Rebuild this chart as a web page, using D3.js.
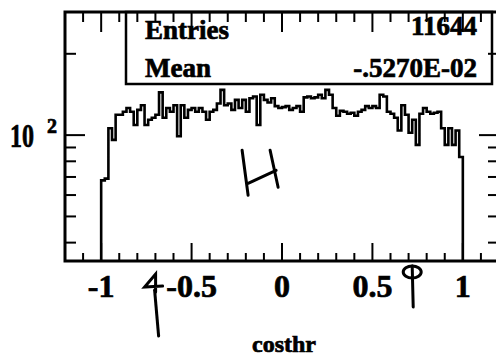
<!DOCTYPE html>
<html>
<head>
<meta charset="utf-8">
<script src="https://cdn.jsdelivr.net/npm/d3@7"></script>
<style>
  body { margin: 0; background: #fff; }
  svg { display: block; }
  text { font-family: "Liberation Serif", "Times New Roman", serif; font-weight: bold; fill: #000; stroke: #000; stroke-width: 0.7px; }
</style>
</head>
<body>
<svg id="chart" width="496" height="357"></svg>
<script>
// histogram of costhr, 100 bins between -1 and 1
var binLo = -1, binHi = 1;
var counts = [
  68, 69, 106, 96, 119, 119, 122, 126, 122, 109,
  124, 129, 109, 114, 116, 119, 144, 116, 126, 122,
  129, 99, 129, 116, 124, 126, 122, 126, 122, 114,
  122, 124, 131, 147, 129, 131, 124, 135, 126, 135,
  122, 137, 139, 109, 141, 135, 132, 137, 128, 126,
  127, 128, 124, 126, 128, 122, 138, 139, 137, 138,
  141, 137, 147, 141, 126, 118, 123, 122, 120, 121,
  118, 122, 124, 128, 126, 128, 126, 141, 139, 122,
  120, 116, 104, 129, 119, 102, 114, 92, 120, 126,
  122, 120, 121, 122, 106, 92, 106, 92, 104, 83
];
var xTickLabels = ["-1", "-0.5", "0", "0.5", "1"];
var xTickValues = [-1, -0.5, 0, 0.5, 1];
var yMinorTicks = [40, 50, 60, 70, 80, 90, 200];
var yMajorTicks = [100];
var statNames = ["Entries", "Mean"];
var statValues = ["11644", "-.5270E-02"];
var cutValues = [-0.71, 0.72];

var svg = d3.select("#chart");
var fL = 65, fR = 499, fT = 12, fB = 261;

var x = d3.scaleLinear().domain([-1.2, 1.2]).range([fL, fR]);
var y = d3.scaleLog().domain([34.2, 285.6]).range([fB, fT]);

var binW = (binHi - binLo) / counts.length;

// histogram outline
var pts = [[x(binLo), fB]];
counts.forEach(function(c, i) {
  var x0 = x(binLo + i * binW), x1 = x(binLo + (i + 1) * binW);
  pts.push([x0, y(c)]);
  pts.push([x1, y(c)]);
});
pts.push([x(binHi), fB]);

svg.append("path")
  .attr("d", d3.line()(pts))
  .attr("fill", "none")
  .attr("stroke", "#000")
  .attr("stroke-width", 2.6);

// x ticks, every 0.1
var xt = d3.range(-12, 13).map(function(k) { return k / 10; });
xt.forEach(function(v) {
  var major = Math.abs(Math.round(v * 10) % 5) === 0;
  svg.append("line")
    .attr("x1", x(v)).attr("x2", x(v))
    .attr("y1", fB).attr("y2", fB - (major ? 18 : 8))
    .attr("stroke", "#000").attr("stroke-width", 2);
  svg.append("line")
    .attr("x1", x(v)).attr("x2", x(v))
    .attr("y1", fT).attr("y2", fT + (major ? 20 : 10))
    .attr("stroke", "#000").attr("stroke-width", 2);
});

// y ticks (log)
yMinorTicks.concat(yMajorTicks).forEach(function(v) {
  var len = yMajorTicks.indexOf(v) >= 0 ? 20 : 11;
  svg.append("line")
    .attr("x1", fL).attr("x2", fL + len)
    .attr("y1", y(v)).attr("y2", y(v))
    .attr("stroke", "#000").attr("stroke-width", 2);
  svg.append("line")
    .attr("x1", fR).attr("x2", fR - len)
    .attr("y1", y(v)).attr("y2", y(v))
    .attr("stroke", "#000").attr("stroke-width", 2);
});

// frame
svg.append("rect")
  .attr("x", fL).attr("y", fT)
  .attr("width", fR - fL).attr("height", fB - fT)
  .attr("fill", "none").attr("stroke", "#000").attr("stroke-width", 3);

// x tick labels
svg.selectAll(".xl").data(xTickValues).enter().append("text")
  .attr("class", "xl")
  .attr("x", function(d) { return x(d); })
  .attr("y", 297)
  .attr("text-anchor", "middle")
  .style("font-size", "32px")
  .text(function(d, i) { return xTickLabels[i]; });

// y label 10^2
svg.append("text")
  .attr("x", 10).attr("y", y(100) + 12)
  .attr("textLength", 24).attr("lengthAdjust", "spacingAndGlyphs")
  .style("font-size", "33px")
  .text("10");
svg.append("text")
  .attr("x", 47).attr("y", y(100) - 2)
  .style("font-size", "20px")
  .text("2");

// axis title
svg.append("text")
  .attr("x", x(0) + 2).attr("y", 352)
  .attr("text-anchor", "middle")
  .style("font-size", "24px")
  .text("costhr");

// stats box
svg.append("rect")
  .attr("x", 126).attr("y", fT)
  .attr("width", 366).attr("height", 72)
  .attr("fill", "none").attr("stroke", "#000").attr("stroke-width", 2.5);

var statY = [39, 77];
statNames.forEach(function(s, i) {
  svg.append("text").attr("x", 145).attr("y", statY[i])
    .style("font-size", "27px").text(s);
  svg.append("text").attr("x", 477).attr("y", statY[i] - (i === 0 ? 4 : 0))
    .attr("text-anchor", "end")
    .style("font-size", "27px").text(statValues[i]);
});

// hand-drawn marks on the scan: cut arrows and an "H"
var pen = svg.append("g")
  .attr("fill", "none").attr("stroke", "#000")
  .attr("stroke-width", 3).attr("stroke-linecap", "round");

var ax0 = x(cutValues[0]);
pen.append("path")
  .attr("d", "M" + (ax0 + 2) + ",292 L" + (ax0 + 2) + ",274 L" + (ax0 - 9) + ",287 L" + (ax0 + 9) + ",286");
pen.append("path")
  .attr("d", "M" + (ax0 + 1) + ",290 L" + (ax0 + 5) + ",336");

var ax1 = x(cutValues[1]);
pen.append("ellipse")
  .attr("cx", ax1).attr("cy", 272).attr("rx", 9).attr("ry", 6);
pen.append("path")
  .attr("d", "M" + ax1 + ",266 L" + (ax1 + 1) + ",307");

var hx = x(-0.11), hy = y(71);
pen.append("path")
  .attr("d", "M" + (hx - 20) + "," + (hy - 25) + " L" + (hx - 14) + "," + (hy + 20) +
             " M" + (hx - 14) + "," + (hy + 8) + " L" + (hx + 14) + "," + (hy - 5) +
             " M" + (hx + 8) + "," + (hy - 25) + " L" + (hx + 16) + "," + (hy + 12));
</script>
</body>
</html>
